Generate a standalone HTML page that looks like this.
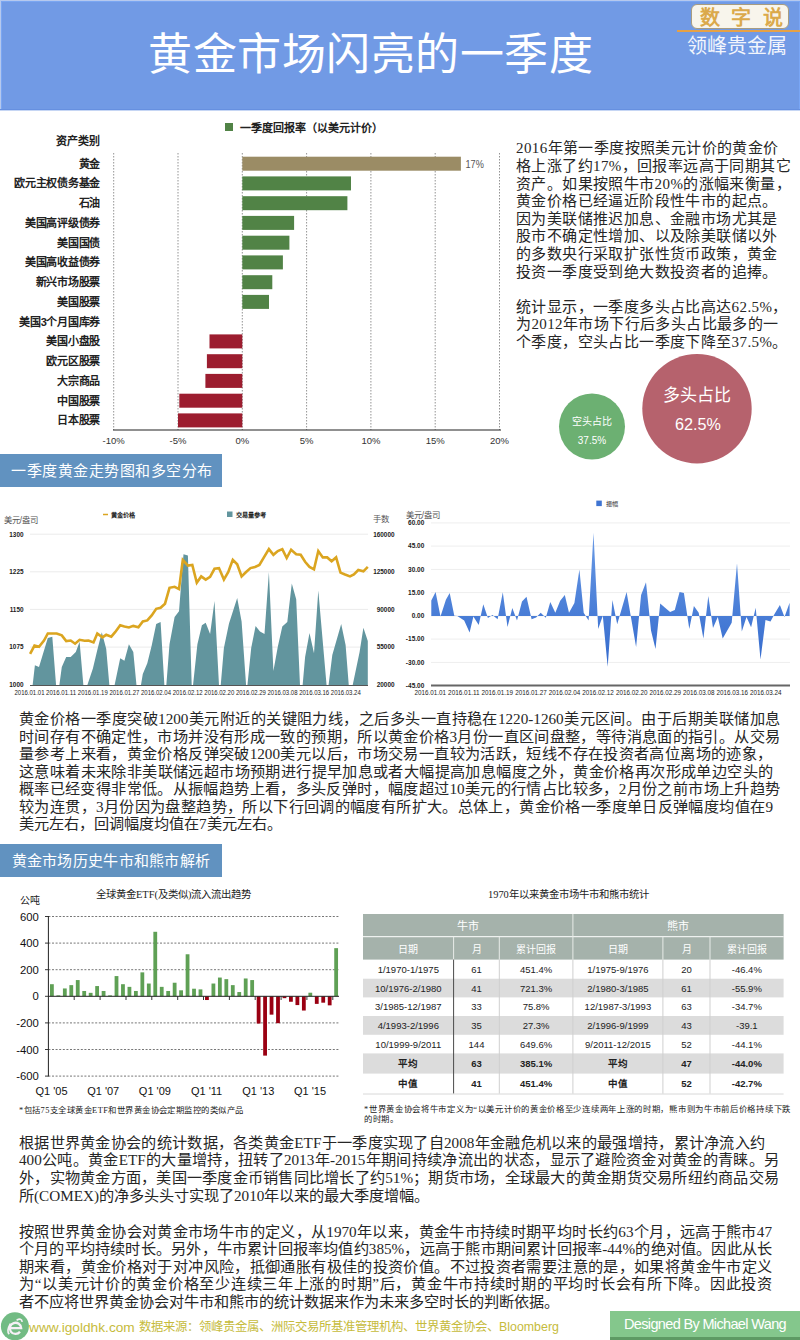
<!DOCTYPE html>
<html lang="zh-CN"><head><meta charset="utf-8"><title>黄金市场闪亮的一季度</title>
<style>
html,body{margin:0;padding:0;}
body{width:800px;height:1340px;position:relative;overflow:hidden;background:#fff;font-family:"Liberation Sans",sans-serif;color:#222;}
.a{position:absolute;white-space:nowrap;}
.sr{font-family:"Liberation Serif",serif;}
.ln{position:absolute;white-space:nowrap;font-family:"Liberation Serif",serif;color:#262626;}
.j{text-align:justify;text-align-last:justify;}
svg text{font-family:"Liberation Sans",sans-serif;}
</style></head><body>
<svg class="a" style="left:0;top:0" width="800" height="1340" viewBox="0 0 800 1340">
<line x1="113.7" y1="153" x2="113.7" y2="430" stroke="#777" stroke-width="0.8" stroke-dasharray="1.5,1.5"/>
<line x1="178.0" y1="153" x2="178.0" y2="430" stroke="#777" stroke-width="0.8" stroke-dasharray="1.5,1.5"/>
<line x1="242.3" y1="153" x2="242.3" y2="430" stroke="#777" stroke-width="0.8" stroke-dasharray="1.5,1.5"/>
<line x1="306.6" y1="153" x2="306.6" y2="430" stroke="#777" stroke-width="0.8" stroke-dasharray="1.5,1.5"/>
<line x1="370.9" y1="153" x2="370.9" y2="430" stroke="#777" stroke-width="0.8" stroke-dasharray="1.5,1.5"/>
<line x1="435.2" y1="153" x2="435.2" y2="430" stroke="#777" stroke-width="0.8" stroke-dasharray="1.5,1.5"/>
<line x1="499.5" y1="153" x2="499.5" y2="430" stroke="#777" stroke-width="0.8" stroke-dasharray="1.5,1.5"/>
<line x1="113" y1="430" x2="501" y2="430" stroke="#222" stroke-width="1.2"/>
<rect x="242.3" y="156.7" width="218.6" height="14" fill="#9b8c65"/>
<text x="100" y="167.7" text-anchor="end" font-size="11" font-weight="bold" fill="#222" letter-spacing="-0.3">黄金</text>
<rect x="242.3" y="176.4" width="108.7" height="14" fill="#518346"/>
<text x="100" y="187.4" text-anchor="end" font-size="11" font-weight="bold" fill="#222" letter-spacing="-0.3">欧元主权债务基金</text>
<rect x="242.3" y="196.2" width="105.1" height="14" fill="#518346"/>
<text x="100" y="207.2" text-anchor="end" font-size="11" font-weight="bold" fill="#222" letter-spacing="-0.3">石油</text>
<rect x="242.3" y="215.9" width="51.8" height="14" fill="#518346"/>
<text x="100" y="226.9" text-anchor="end" font-size="11" font-weight="bold" fill="#222" letter-spacing="-0.3">美国高评级债券</text>
<rect x="242.3" y="235.7" width="47.1" height="14" fill="#518346"/>
<text x="100" y="246.7" text-anchor="end" font-size="11" font-weight="bold" fill="#222" letter-spacing="-0.3">美国国债</text>
<rect x="242.3" y="255.4" width="40.6" height="14" fill="#518346"/>
<text x="100" y="266.4" text-anchor="end" font-size="11" font-weight="bold" fill="#222" letter-spacing="-0.3">美国高收益债券</text>
<rect x="242.3" y="275.2" width="30.0" height="14" fill="#518346"/>
<text x="100" y="286.2" text-anchor="end" font-size="11" font-weight="bold" fill="#222" letter-spacing="-0.3">新兴市场股票</text>
<rect x="242.3" y="294.9" width="26.7" height="14" fill="#518346"/>
<text x="100" y="305.9" text-anchor="end" font-size="11" font-weight="bold" fill="#222" letter-spacing="-0.3">美国股票</text>
<text x="100" y="325.7" text-anchor="end" font-size="11" font-weight="bold" fill="#222" letter-spacing="-0.3">美国3个月国库券</text>
<rect x="209.5" y="334.4" width="32.8" height="14" fill="#9c1d2f"/>
<text x="100" y="345.4" text-anchor="end" font-size="11" font-weight="bold" fill="#222" letter-spacing="-0.3">美国小盘股</text>
<rect x="206.9" y="354.2" width="35.4" height="14" fill="#9c1d2f"/>
<text x="100" y="365.2" text-anchor="end" font-size="11" font-weight="bold" fill="#222" letter-spacing="-0.3">欧元区股票</text>
<rect x="205.4" y="373.9" width="36.9" height="14" fill="#9c1d2f"/>
<text x="100" y="384.9" text-anchor="end" font-size="11" font-weight="bold" fill="#222" letter-spacing="-0.3">大宗商品</text>
<rect x="179.3" y="393.7" width="63.0" height="14" fill="#9c1d2f"/>
<text x="100" y="404.7" text-anchor="end" font-size="11" font-weight="bold" fill="#222" letter-spacing="-0.3">中国股票</text>
<rect x="178.0" y="413.4" width="64.3" height="14" fill="#9c1d2f"/>
<text x="100" y="424.4" text-anchor="end" font-size="11" font-weight="bold" fill="#222" letter-spacing="-0.3">日本股票</text>
<text x="100" y="145" text-anchor="end" font-size="11" font-weight="bold" fill="#222">资产类别</text>
<rect x="225" y="123" width="8" height="8" fill="#518346"/>
<text x="240" y="131.5" font-size="11" font-weight="bold" fill="#222">一季度回报率（以美元计价）</text>
<text x="465.5" y="168" font-size="11" fill="#555" textLength="18.4" lengthAdjust="spacingAndGlyphs">17%</text>
<text x="113.7" y="444" text-anchor="middle" font-size="9.5" fill="#333">-10%</text>
<text x="178.0" y="444" text-anchor="middle" font-size="9.5" fill="#333">-5%</text>
<text x="242.3" y="444" text-anchor="middle" font-size="9.5" fill="#333">0%</text>
<text x="306.6" y="444" text-anchor="middle" font-size="9.5" fill="#333">5%</text>
<text x="370.9" y="444" text-anchor="middle" font-size="9.5" fill="#333">10%</text>
<text x="435.2" y="444" text-anchor="middle" font-size="9.5" fill="#333">15%</text>
<text x="499.5" y="444" text-anchor="middle" font-size="9.5" fill="#333">20%</text>
<circle cx="592" cy="426.6" r="33" fill="#6cb072"/>
<circle cx="697" cy="408.7" r="54.7" fill="#b6626d"/>
<text x="592" y="425" text-anchor="middle" font-size="10" fill="#fff">空头占比</text>
<text x="592" y="444" text-anchor="middle" font-size="10" fill="#fff">37.5%</text>
<text x="697" y="401" text-anchor="middle" font-size="17" fill="#fff">多头占比</text>
<text x="698" y="430" text-anchor="middle" font-size="16.2" fill="#fff">62.5%</text>
<line x1="30" y1="534.2" x2="368" y2="534.2" stroke="#ebebeb" stroke-width="1"/>
<line x1="30" y1="571.8" x2="368" y2="571.8" stroke="#ebebeb" stroke-width="1"/>
<line x1="30" y1="609.4" x2="368" y2="609.4" stroke="#ebebeb" stroke-width="1"/>
<line x1="30" y1="647.1" x2="368" y2="647.1" stroke="#ebebeb" stroke-width="1"/>
<polygon points="32.6,685.5 34.9,665.2 39,667.1 47.8,638 52.3,636.7 56.1,685.5 59.3,685.5 61.8,667.1 66.2,657 70.7,657 75.8,651.9 79.6,641.8 83.4,685.5 87.2,685.5 92.9,668.4 97.3,650 101.8,632.2 106.2,648.7 109.4,685.5 114.5,685.5 120.2,658.2 124.4,660.8 128.9,644.3 133.3,651.9 136.5,685.5 140.9,685.5 142.8,674.1 147.3,663.3 151.7,645.6 156.2,624 160.6,622.1 164.4,685.5 166.3,685.5 169.5,644.3 174.6,617 179,611.3 183.5,554.2 187.9,555.5 191.7,685.5 193,685.5 197.4,644.3 201.9,625.3 205.7,622.7 210.1,634.1 214.5,601.1 219,685.5 220.7,685.5 223.9,648.1 229,623.4 237.2,598 241.6,621.4 246.1,685.5 247.4,685.5 251.2,648.1 255.6,625.9 260,631.6 264.5,634.1 268.9,572 273.4,670.9 277.8,646.8 282.3,626.5 287.3,622.1 291.8,583.4 296.2,599.2 300,685.5 302.6,685.5 305.1,657 309.5,632.9 314,653.2 318.3,590.4 326.6,685.5 328.5,685.5 332.3,655.1 341.2,624 345.6,644.9 348.8,685.5 352.6,685.5 359.6,651.9 363.4,627.8 367.8,641.1 367.8,685.5" fill="#62959e"/>
<line x1="30" y1="685.5" x2="368" y2="685.5" stroke="#555" stroke-width="1"/>
<polyline points="30.1,653.8 34.5,645.6 39,646.8 44,640.5 47.8,633.5 52.3,633.5 56.7,633.5 61.8,635.4 66.2,641.1 70.7,640.5 75.1,643.7 79.6,639.8 84.6,640.7 88.5,640.5 93.5,642.4 97.3,633.5 102.4,637.3 106.2,634.8 111.3,636.7 115.1,632.2 120.2,625.3 124.4,626.5 128.9,627.5 133.3,625.9 138.4,627.2 142.8,621.4 147.3,620.4 151.7,615.4 156.2,608.8 160.6,607.7 165,603.7 169.5,587.8 174.6,586.8 179,589.1 182.8,559.9 187.9,565.6 192.3,565 196.8,582.7 201.2,576.4 205.7,579.6 210.1,576.8 214.5,568.8 219,568.1 223.9,579.6 228.3,572 232.8,559.9 237.2,564.3 241.6,576.4 246.1,572 250.5,568.1 255,566.9 259.4,565 263.9,557.4 268.9,549.1 273.4,554.8 277.8,551 282.3,549.1 286.7,558 291.1,549.7 296.2,554.2 300.7,554.8 305.1,561.8 309.5,566.9 314,569.4 318.3,551 322.8,557.4 327.2,557.4 331.6,561.2 336.1,557.4 340.5,572.6 345,574.5 350,576.4 353.9,574.5 358.3,570 363.4,571.3 367.8,566.9" fill="none" stroke="#dba520" stroke-width="2.6" stroke-linejoin="miter"/>
<text x="23.5" y="536.5" text-anchor="end" font-size="6.4" font-weight="bold" fill="#222">1300</text>
<text x="23.5" y="574.1" text-anchor="end" font-size="6.4" font-weight="bold" fill="#222">1225</text>
<text x="23.5" y="611.7" text-anchor="end" font-size="6.4" font-weight="bold" fill="#222">1150</text>
<text x="23.5" y="649.4" text-anchor="end" font-size="6.4" font-weight="bold" fill="#222">1075</text>
<text x="23.5" y="687.0" text-anchor="end" font-size="6.4" font-weight="bold" fill="#222">1000</text>
<text x="394.5" y="536.5" text-anchor="end" font-size="6.4" font-weight="bold" fill="#222">160000</text>
<text x="394.5" y="574.1" text-anchor="end" font-size="6.4" font-weight="bold" fill="#222">125000</text>
<text x="394.5" y="611.7" text-anchor="end" font-size="6.4" font-weight="bold" fill="#222">90000</text>
<text x="394.5" y="649.4" text-anchor="end" font-size="6.4" font-weight="bold" fill="#222">55000</text>
<text x="394.5" y="687.0" text-anchor="end" font-size="6.4" font-weight="bold" fill="#222">20000</text>
<text x="14.5" y="694.8" font-size="7" fill="#222" textLength="30" lengthAdjust="spacingAndGlyphs">2016.01.01</text>
<text x="46.1" y="694.8" font-size="7" fill="#222" textLength="30" lengthAdjust="spacingAndGlyphs">2016.01.11</text>
<text x="77.8" y="694.8" font-size="7" fill="#222" textLength="30" lengthAdjust="spacingAndGlyphs">2016.01.19</text>
<text x="109.4" y="694.8" font-size="7" fill="#222" textLength="30" lengthAdjust="spacingAndGlyphs">2016.01.27</text>
<text x="141.0" y="694.8" font-size="7" fill="#222" textLength="30" lengthAdjust="spacingAndGlyphs">2016.02.04</text>
<text x="172.7" y="694.8" font-size="7" fill="#222" textLength="30" lengthAdjust="spacingAndGlyphs">2016.02.12</text>
<text x="204.3" y="694.8" font-size="7" fill="#222" textLength="30" lengthAdjust="spacingAndGlyphs">2016.02.20</text>
<text x="235.9" y="694.8" font-size="7" fill="#222" textLength="30" lengthAdjust="spacingAndGlyphs">2016.02.29</text>
<text x="267.5" y="694.8" font-size="7" fill="#222" textLength="30" lengthAdjust="spacingAndGlyphs">2016.03.08</text>
<text x="299.2" y="694.8" font-size="7" fill="#222" textLength="30" lengthAdjust="spacingAndGlyphs">2016.03.16</text>
<text x="330.8" y="694.8" font-size="7" fill="#222" textLength="30" lengthAdjust="spacingAndGlyphs">2016.03.24</text>
<text x="3.8" y="522.5" font-size="8.4" fill="#555">美元/盎司</text>
<text x="372.5" y="521.5" font-size="8.4" fill="#555">手数</text>
<line x1="103" y1="514.5" x2="108" y2="514.5" stroke="#dba520" stroke-width="1.5"/>
<text x="111" y="517" font-size="6.2" font-weight="bold" fill="#222">黄金价格</text>
<rect x="227" y="511.5" width="5.5" height="5.5" fill="#62959e"/>
<text x="236" y="517" font-size="6.2" font-weight="bold" fill="#222">交易量参考</text>
<line x1="431" y1="522.9" x2="790" y2="522.9" stroke="#eeeeee" stroke-width="1"/>
<line x1="431" y1="546.1" x2="790" y2="546.1" stroke="#eeeeee" stroke-width="1"/>
<line x1="431" y1="569.4" x2="790" y2="569.4" stroke="#eeeeee" stroke-width="1"/>
<line x1="431" y1="592.6" x2="790" y2="592.6" stroke="#eeeeee" stroke-width="1"/>
<line x1="431" y1="615.9" x2="790" y2="615.9" stroke="#eeeeee" stroke-width="1"/>
<line x1="431" y1="639.1" x2="790" y2="639.1" stroke="#eeeeee" stroke-width="1"/>
<line x1="431" y1="662.4" x2="790" y2="662.4" stroke="#eeeeee" stroke-width="1"/>
<defs><linearGradient id="bg" gradientUnits="userSpaceOnUse" x1="0" y1="530" x2="0" y2="670"><stop offset="0" stop-color="#6a9be6"/><stop offset="1" stop-color="#3369cc"/></linearGradient></defs>
<polygon points="431.3,615.9 431.3,600.5 435.6,592.1 440.5,616.6 445.9,599.7 449.7,592.9 454.3,615.8 457.3,616.1 464.2,620.4 469.6,632.6 473.4,616.6 478.7,625 483.3,604.3 487.9,618.1 492.5,615 497.6,619.2 502.8,592.3 507.5,627 512.3,607.9 517,620.6 522,601.5 526.5,596.8 531.6,619.2 536.1,617.5 540.7,612.8 545.8,617.8 550.3,601.9 555.3,612.8 560.2,600.8 564.8,595.1 569,612.8 574.4,602.9 579.4,569.6 583.7,612.8 588.6,620.4 593.5,532.7 598.2,629.1 602.8,615.7 607.7,666.7 612.4,600.1 617.2,624.2 626.6,592 636.1,646.9 641.1,595.1 646,582.3 651,630.6 655.5,649 660.2,603.6 664.5,607.2 670.1,612.1 674.8,610 679.6,592 683.9,593 689.3,629.1 693.9,606 698.7,612.8 703.4,638.6 708.3,596 713,627.9 717.8,617.1 722.7,638.6 731.7,622.8 737,563.2 741.8,631.5 746.5,617.1 751.1,627.2 755.7,607.7 760.5,659.5 765.5,620 770.5,621.4 774.8,613.5 779.9,604.9 784.5,617.1 789.6,602.7 789.6,615.9" fill="url(#bg)"/>
<line x1="431" y1="685.6" x2="790" y2="685.6" stroke="#666" stroke-width="2"/>
<text x="424.3" y="525.2" text-anchor="end" font-size="6.5" font-weight="bold" fill="#222">60.00</text>
<text x="424.3" y="548.4" text-anchor="end" font-size="6.5" font-weight="bold" fill="#222">45.00</text>
<text x="424.3" y="571.7" text-anchor="end" font-size="6.5" font-weight="bold" fill="#222">30.00</text>
<text x="424.3" y="594.9" text-anchor="end" font-size="6.5" font-weight="bold" fill="#222">15.00</text>
<text x="424.3" y="618.2" text-anchor="end" font-size="6.5" font-weight="bold" fill="#222">0.00</text>
<text x="424.3" y="641.4" text-anchor="end" font-size="6.5" font-weight="bold" fill="#222">-15.00</text>
<text x="424.3" y="664.7" text-anchor="end" font-size="6.5" font-weight="bold" fill="#222">-30.00</text>
<text x="424.3" y="687.9" text-anchor="end" font-size="6.5" font-weight="bold" fill="#222">-45.00</text>
<text x="414.5" y="694.8" font-size="7" fill="#222" textLength="31.5" lengthAdjust="spacingAndGlyphs">2016.01.01</text>
<text x="448.1" y="694.8" font-size="7" fill="#222" textLength="31.5" lengthAdjust="spacingAndGlyphs">2016.01.11</text>
<text x="481.6" y="694.8" font-size="7" fill="#222" textLength="31.5" lengthAdjust="spacingAndGlyphs">2016.01.19</text>
<text x="515.2" y="694.8" font-size="7" fill="#222" textLength="31.5" lengthAdjust="spacingAndGlyphs">2016.01.27</text>
<text x="548.7" y="694.8" font-size="7" fill="#222" textLength="31.5" lengthAdjust="spacingAndGlyphs">2016.02.04</text>
<text x="582.3" y="694.8" font-size="7" fill="#222" textLength="31.5" lengthAdjust="spacingAndGlyphs">2016.02.12</text>
<text x="615.9" y="694.8" font-size="7" fill="#222" textLength="31.5" lengthAdjust="spacingAndGlyphs">2016.02.20</text>
<text x="649.4" y="694.8" font-size="7" fill="#222" textLength="31.5" lengthAdjust="spacingAndGlyphs">2016.02.29</text>
<text x="683.0" y="694.8" font-size="7" fill="#222" textLength="31.5" lengthAdjust="spacingAndGlyphs">2016.03.08</text>
<text x="716.5" y="694.8" font-size="7" fill="#222" textLength="31.5" lengthAdjust="spacingAndGlyphs">2016.03.16</text>
<text x="750.1" y="694.8" font-size="7" fill="#222" textLength="31.5" lengthAdjust="spacingAndGlyphs">2016.03.24</text>
<text x="405.8" y="517.5" font-size="8.4" fill="#555">美元/盎司</text>
<rect x="596.3" y="500.6" width="5.5" height="5.5" fill="#3f74d2"/>
<text x="606" y="506" font-size="6.2" fill="#333">振幅</text>
<line x1="48.4" y1="916.5" x2="339" y2="916.5" stroke="#666" stroke-width="0.9" stroke-dasharray="2,1.6"/>
<line x1="48.4" y1="943.1" x2="339" y2="943.1" stroke="#666" stroke-width="0.9" stroke-dasharray="2,1.6"/>
<line x1="48.4" y1="969.7" x2="339" y2="969.7" stroke="#666" stroke-width="0.9" stroke-dasharray="2,1.6"/>
<line x1="48.4" y1="1022.9" x2="339" y2="1022.9" stroke="#666" stroke-width="0.9" stroke-dasharray="2,1.6"/>
<line x1="48.4" y1="1049.5" x2="339" y2="1049.5" stroke="#666" stroke-width="0.9" stroke-dasharray="2,1.6"/>
<line x1="48.4" y1="1076.1" x2="339" y2="1076.1" stroke="#666" stroke-width="0.9" stroke-dasharray="2,1.6"/>
<rect x="50.00" y="984.20" width="3.8" height="12.10" fill="#5fa055"/>
<rect x="56.46" y="995.37" width="3.8" height="0.93" fill="#5fa055"/>
<rect x="62.92" y="988.45" width="3.8" height="7.85" fill="#5fa055"/>
<rect x="69.38" y="985.13" width="3.8" height="11.17" fill="#5fa055"/>
<rect x="75.84" y="980.07" width="3.8" height="16.23" fill="#5fa055"/>
<rect x="82.30" y="990.98" width="3.8" height="5.32" fill="#5fa055"/>
<rect x="88.76" y="992.84" width="3.8" height="3.46" fill="#5fa055"/>
<rect x="95.22" y="986.06" width="3.8" height="10.24" fill="#5fa055"/>
<rect x="101.68" y="990.98" width="3.8" height="5.32" fill="#5fa055"/>
<rect x="108.14" y="995.37" width="3.8" height="0.93" fill="#5fa055"/>
<rect x="114.60" y="976.08" width="3.8" height="20.22" fill="#5fa055"/>
<rect x="121.06" y="984.20" width="3.8" height="12.10" fill="#5fa055"/>
<rect x="127.52" y="986.86" width="3.8" height="9.44" fill="#5fa055"/>
<rect x="133.98" y="990.98" width="3.8" height="5.32" fill="#5fa055"/>
<rect x="140.44" y="972.36" width="3.8" height="23.94" fill="#5fa055"/>
<rect x="146.90" y="983.53" width="3.8" height="12.77" fill="#5fa055"/>
<rect x="153.36" y="931.79" width="3.8" height="64.51" fill="#5fa055"/>
<rect x="159.82" y="986.86" width="3.8" height="9.44" fill="#5fa055"/>
<rect x="166.28" y="990.98" width="3.8" height="5.32" fill="#5fa055"/>
<rect x="172.74" y="982.73" width="3.8" height="13.57" fill="#5fa055"/>
<rect x="179.20" y="990.31" width="3.8" height="5.99" fill="#5fa055"/>
<rect x="185.66" y="954.27" width="3.8" height="42.03" fill="#5fa055"/>
<rect x="192.12" y="988.72" width="3.8" height="7.58" fill="#5fa055"/>
<rect x="198.58" y="989.38" width="3.8" height="6.92" fill="#5fa055"/>
<rect x="205.04" y="996.30" width="3.8" height="3.72" fill="#9a0012"/>
<rect x="211.50" y="983.53" width="3.8" height="12.77" fill="#5fa055"/>
<rect x="217.96" y="977.55" width="3.8" height="18.75" fill="#5fa055"/>
<rect x="224.42" y="979.14" width="3.8" height="17.16" fill="#5fa055"/>
<rect x="230.88" y="985.13" width="3.8" height="11.17" fill="#5fa055"/>
<rect x="237.34" y="992.04" width="3.8" height="4.26" fill="#5fa055"/>
<rect x="243.80" y="978.48" width="3.8" height="17.82" fill="#5fa055"/>
<rect x="250.26" y="980.07" width="3.8" height="16.23" fill="#5fa055"/>
<rect x="256.72" y="996.30" width="3.8" height="27.27" fill="#9a0012"/>
<rect x="263.18" y="996.30" width="3.8" height="59.32" fill="#9a0012"/>
<rect x="269.64" y="996.30" width="3.8" height="18.35" fill="#9a0012"/>
<rect x="276.10" y="996.30" width="3.8" height="26.87" fill="#9a0012"/>
<rect x="282.56" y="996.30" width="3.8" height="1.86" fill="#9a0012"/>
<rect x="289.02" y="996.30" width="3.8" height="5.45" fill="#9a0012"/>
<rect x="295.48" y="996.30" width="3.8" height="8.78" fill="#9a0012"/>
<rect x="301.94" y="996.30" width="3.8" height="14.23" fill="#9a0012"/>
<rect x="308.40" y="992.71" width="3.8" height="3.59" fill="#5fa055"/>
<rect x="314.86" y="996.30" width="3.8" height="7.58" fill="#9a0012"/>
<rect x="321.32" y="996.30" width="3.8" height="6.38" fill="#9a0012"/>
<rect x="327.78" y="996.30" width="3.8" height="9.04" fill="#9a0012"/>
<rect x="334.24" y="948.15" width="3.8" height="48.15" fill="#5fa055"/>
<line x1="48.4" y1="916" x2="48.4" y2="1076.5" stroke="#222" stroke-width="1"/>
<line x1="48.4" y1="996.3" x2="339" y2="996.3" stroke="#222" stroke-width="1"/>
<line x1="45" y1="916.5" x2="48.4" y2="916.5" stroke="#222" stroke-width="0.9"/>
<line x1="45" y1="943.1" x2="48.4" y2="943.1" stroke="#222" stroke-width="0.9"/>
<line x1="45" y1="969.7" x2="48.4" y2="969.7" stroke="#222" stroke-width="0.9"/>
<line x1="45" y1="996.3" x2="48.4" y2="996.3" stroke="#222" stroke-width="0.9"/>
<line x1="45" y1="1022.9" x2="48.4" y2="1022.9" stroke="#222" stroke-width="0.9"/>
<line x1="45" y1="1049.5" x2="48.4" y2="1049.5" stroke="#222" stroke-width="0.9"/>
<line x1="45" y1="1076.1" x2="48.4" y2="1076.1" stroke="#222" stroke-width="0.9"/>
<line x1="74.2" y1="996.3" x2="74.2" y2="1000" stroke="#222" stroke-width="0.9"/>
<line x1="100.1" y1="996.3" x2="100.1" y2="1000" stroke="#222" stroke-width="0.9"/>
<line x1="126.0" y1="996.3" x2="126.0" y2="1000" stroke="#222" stroke-width="0.9"/>
<line x1="151.8" y1="996.3" x2="151.8" y2="1000" stroke="#222" stroke-width="0.9"/>
<line x1="177.7" y1="996.3" x2="177.7" y2="1000" stroke="#222" stroke-width="0.9"/>
<line x1="203.5" y1="996.3" x2="203.5" y2="1000" stroke="#222" stroke-width="0.9"/>
<line x1="229.4" y1="996.3" x2="229.4" y2="1000" stroke="#222" stroke-width="0.9"/>
<line x1="255.2" y1="996.3" x2="255.2" y2="1000" stroke="#222" stroke-width="0.9"/>
<line x1="281.1" y1="996.3" x2="281.1" y2="1000" stroke="#222" stroke-width="0.9"/>
<line x1="306.9" y1="996.3" x2="306.9" y2="1000" stroke="#222" stroke-width="0.9"/>
<line x1="332.8" y1="996.3" x2="332.8" y2="1000" stroke="#222" stroke-width="0.9"/>
<text x="38.8" y="920.5" text-anchor="end" font-size="11.3" fill="#111">600</text>
<text x="38.8" y="947.1" text-anchor="end" font-size="11.3" fill="#111">400</text>
<text x="38.8" y="973.7" text-anchor="end" font-size="11.3" fill="#111">200</text>
<text x="38.8" y="1000.3" text-anchor="end" font-size="11.3" fill="#111">0</text>
<text x="38.8" y="1026.9" text-anchor="end" font-size="11.3" fill="#111">-200</text>
<text x="38.8" y="1053.5" text-anchor="end" font-size="11.3" fill="#111">-400</text>
<text x="38.8" y="1080.1" text-anchor="end" font-size="11.3" fill="#111">-600</text>
<text x="51.5" y="1094.5" text-anchor="middle" font-size="11" fill="#111">Q1 '05</text>
<text x="103.2" y="1094.5" text-anchor="middle" font-size="11" fill="#111">Q1 '07</text>
<text x="154.9" y="1094.5" text-anchor="middle" font-size="11" fill="#111">Q1 '09</text>
<text x="206.6" y="1094.5" text-anchor="middle" font-size="11" fill="#111">Q1 '11</text>
<text x="258.3" y="1094.5" text-anchor="middle" font-size="11" fill="#111">Q1 '13</text>
<text x="310.0" y="1094.5" text-anchor="middle" font-size="11" fill="#111">Q1 '15</text>
<rect x="363" y="914" width="420.6" height="45.6" fill="#a5b2ab"/>
<line x1="363" y1="936.7" x2="783.6" y2="936.7" stroke="#fff" stroke-width="1"/>
<line x1="453.6" y1="936.7" x2="453.6" y2="959.6" stroke="#e8ece9" stroke-width="1"/>
<line x1="499.3" y1="936.7" x2="499.3" y2="959.6" stroke="#e8ece9" stroke-width="1"/>
<line x1="572.9" y1="914" x2="572.9" y2="959.6" stroke="#e8ece9" stroke-width="1"/>
<line x1="662.9" y1="936.7" x2="662.9" y2="959.6" stroke="#e8ece9" stroke-width="1"/>
<line x1="710" y1="936.7" x2="710" y2="959.6" stroke="#e8ece9" stroke-width="1"/>
<rect x="363" y="978.7" width="420.6" height="18.7" fill="#dcdcdc"/>
<rect x="363" y="1016" width="420.6" height="18.8" fill="#dcdcdc"/>
<rect x="363" y="1053.4" width="420.6" height="20.2" fill="#dcdcdc"/>
<line x1="453.6" y1="959.6" x2="453.6" y2="1093.7" stroke="#4a4a4a" stroke-width="1"/>
<line x1="499.3" y1="959.6" x2="499.3" y2="1093.7" stroke="#cfcfcf" stroke-width="1"/>
<line x1="572.9" y1="959.6" x2="572.9" y2="1093.7" stroke="#cfcfcf" stroke-width="1"/>
<line x1="662.9" y1="959.6" x2="662.9" y2="1093.7" stroke="#cfcfcf" stroke-width="1"/>
<line x1="710" y1="959.6" x2="710" y2="1093.7" stroke="#cfcfcf" stroke-width="1"/>
<line x1="363" y1="1094" x2="783.6" y2="1094" stroke="#d8d8d8" stroke-width="1"/>
<text x="468" y="930" text-anchor="middle" font-size="11" fill="#fff">牛市</text>
<text x="678" y="930" text-anchor="middle" font-size="11" fill="#fff">熊市</text>
<text x="408.3" y="952.5" text-anchor="middle" font-size="10" fill="#fff">日期</text>
<text x="476.5" y="952.5" text-anchor="middle" font-size="10" fill="#fff">月</text>
<text x="536.1" y="952.5" text-anchor="middle" font-size="10" fill="#fff">累计回报</text>
<text x="617.9" y="952.5" text-anchor="middle" font-size="10" fill="#fff">日期</text>
<text x="686.5" y="952.5" text-anchor="middle" font-size="10" fill="#fff">月</text>
<text x="746.8" y="952.5" text-anchor="middle" font-size="10" fill="#fff">累计回报</text>
<text x="408.3" y="972.7" text-anchor="middle" font-size="9.5" fill="#222">1/1970-1/1975</text>
<text x="476.5" y="972.7" text-anchor="middle" font-size="9.5" fill="#222">61</text>
<text x="536.1" y="972.7" text-anchor="middle" font-size="9.5" fill="#222">451.4%</text>
<text x="617.9" y="972.7" text-anchor="middle" font-size="9.5" fill="#222">1/1975-9/1976</text>
<text x="686.5" y="972.7" text-anchor="middle" font-size="9.5" fill="#222">20</text>
<text x="746.8" y="972.7" text-anchor="middle" font-size="9.5" fill="#222">-46.4%</text>
<text x="408.3" y="991.5" text-anchor="middle" font-size="9.5" fill="#222">10/1976-2/1980</text>
<text x="476.5" y="991.5" text-anchor="middle" font-size="9.5" fill="#222">41</text>
<text x="536.1" y="991.5" text-anchor="middle" font-size="9.5" fill="#222">721.3%</text>
<text x="617.9" y="991.5" text-anchor="middle" font-size="9.5" fill="#222">2/1980-3/1985</text>
<text x="686.5" y="991.5" text-anchor="middle" font-size="9.5" fill="#222">61</text>
<text x="746.8" y="991.5" text-anchor="middle" font-size="9.5" fill="#222">-55.9%</text>
<text x="408.3" y="1010.2" text-anchor="middle" font-size="9.5" fill="#222">3/1985-12/1987</text>
<text x="476.5" y="1010.2" text-anchor="middle" font-size="9.5" fill="#222">33</text>
<text x="536.1" y="1010.2" text-anchor="middle" font-size="9.5" fill="#222">75.8%</text>
<text x="617.9" y="1010.2" text-anchor="middle" font-size="9.5" fill="#222">12/1987-3/1993</text>
<text x="686.5" y="1010.2" text-anchor="middle" font-size="9.5" fill="#222">63</text>
<text x="746.8" y="1010.2" text-anchor="middle" font-size="9.5" fill="#222">-34.7%</text>
<text x="408.3" y="1028.9" text-anchor="middle" font-size="9.5" fill="#222">4/1993-2/1996</text>
<text x="476.5" y="1028.9" text-anchor="middle" font-size="9.5" fill="#222">35</text>
<text x="536.1" y="1028.9" text-anchor="middle" font-size="9.5" fill="#222">27.3%</text>
<text x="617.9" y="1028.9" text-anchor="middle" font-size="9.5" fill="#222">2/1996-9/1999</text>
<text x="686.5" y="1028.9" text-anchor="middle" font-size="9.5" fill="#222">43</text>
<text x="746.8" y="1028.9" text-anchor="middle" font-size="9.5" fill="#222">-39.1</text>
<text x="408.3" y="1047.6" text-anchor="middle" font-size="9.5" fill="#222">10/1999-9/2011</text>
<text x="476.5" y="1047.6" text-anchor="middle" font-size="9.5" fill="#222">144</text>
<text x="536.1" y="1047.6" text-anchor="middle" font-size="9.5" fill="#222">649.6%</text>
<text x="617.9" y="1047.6" text-anchor="middle" font-size="9.5" fill="#222">9/2011-12/2015</text>
<text x="686.5" y="1047.6" text-anchor="middle" font-size="9.5" fill="#222">52</text>
<text x="746.8" y="1047.6" text-anchor="middle" font-size="9.5" fill="#222">-44.1%</text>
<text x="408.3" y="1067.0" text-anchor="middle" font-size="9.5" font-weight="bold" fill="#222">平均</text>
<text x="476.5" y="1067.0" text-anchor="middle" font-size="9.5" font-weight="bold" fill="#222">63</text>
<text x="536.1" y="1067.0" text-anchor="middle" font-size="9.5" font-weight="bold" fill="#222">385.1%</text>
<text x="617.9" y="1067.0" text-anchor="middle" font-size="9.5" font-weight="bold" fill="#222">平均</text>
<text x="686.5" y="1067.0" text-anchor="middle" font-size="9.5" font-weight="bold" fill="#222">47</text>
<text x="746.8" y="1067.0" text-anchor="middle" font-size="9.5" font-weight="bold" fill="#222">-44.0%</text>
<text x="408.3" y="1087.2" text-anchor="middle" font-size="9.5" font-weight="bold" fill="#222">中值</text>
<text x="476.5" y="1087.2" text-anchor="middle" font-size="9.5" font-weight="bold" fill="#222">41</text>
<text x="536.1" y="1087.2" text-anchor="middle" font-size="9.5" font-weight="bold" fill="#222">451.4%</text>
<text x="617.9" y="1087.2" text-anchor="middle" font-size="9.5" font-weight="bold" fill="#222">中值</text>
<text x="686.5" y="1087.2" text-anchor="middle" font-size="9.5" font-weight="bold" fill="#222">52</text>
<text x="746.8" y="1087.2" text-anchor="middle" font-size="9.5" font-weight="bold" fill="#222">-42.7%</text>
<circle cx="14.9" cy="1326.3" r="14" fill="#72bb84"/>
<path d="M10,1328.2 L21.2,1328.2 A5.7,5.6 0 1 0 20,1331.8" fill="none" stroke="#f6f0f6" stroke-width="2.3"/>
<path d="M9.2,1334.2 Q6.2,1331 10.4,1323.6 M16.6,1320.2 Q21.4,1317.6 22.2,1321.8" fill="none" stroke="#f6f0f6" stroke-width="1.7"/>
</svg>
<div class="a" style="left:0;top:0;width:800px;height:110px;background:#719ae5;"></div>
<div class="a" style="left:0;top:1px;width:800px;height:1px;background:#7aa6f2;"></div>
<div class="a" style="left:1px;top:0;width:1px;height:110px;background:#7aa6f2;"></div>
<div class="a" style="left:799px;top:0;width:1px;height:110px;background:#79a6f5;"></div>
<div class="a" style="left:0;top:0;width:800px;height:1px;background:#b6c9ee;"></div>
<div class="a" style="left:0;top:0;width:1px;height:110px;background:#b6c9ee;"></div>
<div class="a" style="left:0;top:109px;width:800px;height:1px;background:#6690e0;"></div>
<div class="a" style="left:0;top:110px;width:800px;height:1px;background:#c6d6f4;"></div>
<div class="a sr" style="left:148px;top:28px;font-size:44px;line-height:56px;letter-spacing:0.5px;color:#fff;">黄金市场闪亮的一季度</div>
<div class="a" style="left:691px;top:4px;width:96px;height:23px;background:#f8f5ec;border:1px solid #a89c80;border-radius:6px;"></div>
<div class="a" style="left:699.5px;top:4.5px;font-size:20px;line-height:26px;color:#dba94b;letter-spacing:11.5px;font-weight:bold;">数字说</div>
<div class="a" style="left:677px;top:30px;width:123px;height:2px;background:#e6a146;"></div>
<div class="a" style="left:687px;top:32.5px;font-size:20px;line-height:26px;color:#f2f5fc;letter-spacing:-0.1px;">领峰贵金属</div>
<div class="ln" style="left:516px;top:140.3px;font-size:15px;line-height:17.6px;letter-spacing:0.4px;">2016年第一季度按照美元计价的黄金价</div>
<div class="ln" style="left:516px;top:157.9px;font-size:15px;line-height:17.6px;letter-spacing:0.4px;">格上涨了约17%，回报率远高于同期其它</div>
<div class="ln" style="left:516px;top:175.5px;font-size:15px;line-height:17.6px;letter-spacing:0.4px;">资产。如果按照牛市20%的涨幅来衡量，</div>
<div class="ln" style="left:516px;top:193.1px;font-size:15px;line-height:17.6px;letter-spacing:0.4px;">黄金价格已经逼近阶段性牛市的起点。</div>
<div class="ln" style="left:516px;top:210.7px;font-size:15px;line-height:17.6px;letter-spacing:0.4px;">因为美联储推迟加息、金融市场尤其是</div>
<div class="ln" style="left:516px;top:228.3px;font-size:15px;line-height:17.6px;letter-spacing:0.4px;">股市不确定性增加、以及除美联储以外</div>
<div class="ln" style="left:516px;top:245.9px;font-size:15px;line-height:17.6px;letter-spacing:0.4px;">的多数央行采取扩张性货币政策，黄金</div>
<div class="ln" style="left:516px;top:263.5px;font-size:15px;line-height:17.6px;letter-spacing:0.4px;">投资一季度受到绝大数投资者的追捧。</div>
<div class="ln" style="left:516px;top:298.7px;font-size:15px;line-height:17.6px;letter-spacing:0.4px;">统计显示，一季度多头占比高达62.5%，</div>
<div class="ln" style="left:516px;top:316.3px;font-size:15px;line-height:17.6px;letter-spacing:0.4px;">为2012年市场下行后多头占比最多的一</div>
<div class="ln" style="left:516px;top:333.9px;font-size:15px;line-height:17.6px;letter-spacing:0.4px;">个季度，空头占比一季度下降至37.5%。</div>
<div class="a" style="left:0;top:454px;width:222px;height:33px;background:#6192c0;"></div>
<div class="a" style="left:11px;top:454px;font-size:15px;line-height:33px;color:#fff;letter-spacing:0.5px;">一季度黄金走势图和多空分布</div>
<div class="ln j" style="left:19px;top:710.30px;width:761px;font-size:15.2px;line-height:17px;">黄金价格一季度突破1200美元附近的关键阻力线，之后多头一直持稳在1220-1260美元区间。由于后期美联储加息</div>
<div class="ln j" style="left:19px;top:727.80px;width:761px;font-size:15.2px;line-height:17px;">时间存有不确定性，市场并没有形成一致的预期，所以黄金价格3月份一直区间盘整，等待消息面的指引。从交易</div>
<div class="ln j" style="left:19px;top:745.30px;width:753px;font-size:15.2px;line-height:17px;">量参考上来看，黄金价格反弹突破1200美元以后，市场交易一直较为活跃，短线不存在投资者高位离场的迹象，</div>
<div class="ln j" style="left:19px;top:762.80px;width:754px;font-size:15.2px;line-height:17px;">这意味着未来除非美联储远超市场预期进行提早加息或者大幅提高加息幅度之外，黄金价格再次形成单边空头的</div>
<div class="ln j" style="left:19px;top:780.30px;width:761px;font-size:15.2px;line-height:17px;">概率已经变得非常低。从振幅趋势上看，多头反弹时，幅度超过10美元的行情占比较多，2月份之前市场上升趋势</div>
<div class="ln j" style="left:19px;top:797.80px;width:754px;font-size:15.2px;line-height:17px;">较为连贯，3月份因为盘整趋势，所以下行回调的幅度有所扩大。总体上，黄金价格一季度单日反弹幅度均值在9</div>
<div class="ln" style="left:19px;top:815.30px;font-size:15.2px;line-height:17px;">美元左右，回调幅度均值在7美元左右。</div>
<div class="a" style="left:0;top:844px;width:222px;height:33px;background:#6192c0;"></div>
<div class="a" style="left:11.5px;top:844px;font-size:15px;line-height:33px;color:#fff;letter-spacing:0.3px;">黄金市场历史牛市和熊市解析</div>
<div class="a sr" style="left:96px;top:888px;font-size:10.4px;line-height:14px;color:#222;">全球黄金ETF(及类似)流入流出趋势</div>
<div class="a" style="left:19.5px;top:894px;font-size:10px;line-height:14px;color:#222;">公吨</div>
<div class="a sr" style="left:19px;top:1105px;font-size:8.4px;line-height:12px;color:#222;letter-spacing:0.45px;">*包括75支全球黄金ETF和世界黄金协会定期监控的类似产品</div>
<div class="a sr" style="left:488px;top:888px;font-size:10.4px;line-height:14px;color:#222;">1970年以来黄金市场牛市和熊市统计</div>
<div class="a sr" style="left:364px;top:1104.5px;font-size:8.4px;line-height:10.5px;color:#222;letter-spacing:0.7px;">*世界黄金协会将牛市定义为“以美元计价的黄金价格至少连续两年上涨的时期，熊市则为牛市前后价格持续下跌<br>的时期。</div>
<div class="ln j" style="left:19px;top:1133.80px;width:746px;font-size:15.2px;line-height:17px;">根据世界黄金协会的统计数据，各类黄金ETF于一季度实现了自2008年金融危机以来的最强增持，累计净流入约</div>
<div class="ln j" style="left:19px;top:1151.40px;width:760px;font-size:15.2px;line-height:17px;">400公吨。黄金ETF的大量增持，扭转了2013年-2015年期间持续净流出的状态，显示了避险资金对黄金的青睐。另</div>
<div class="ln j" style="left:19px;top:1169.00px;width:760px;font-size:15.2px;line-height:17px;">外，实物黄金方面，美国一季度金币销售同比增长了约51%；期货市场，全球最大的黄金期货交易所纽约商品交易</div>
<div class="ln" style="left:19px;top:1186.60px;font-size:15.2px;line-height:17px;">所(COMEX)的净多头头寸实现了2010年以来的最大季度增幅。</div>
<div class="ln j" style="left:19px;top:1222.60px;width:753px;font-size:15.2px;line-height:17px;">按照世界黄金协会对黄金市场牛市的定义，从1970年以来，黄金牛市持续时期平均时长约63个月，远高于熊市47</div>
<div class="ln j" style="left:19px;top:1240.20px;width:753px;font-size:15.2px;line-height:17px;">个月的平均持续时长。另外，牛市累计回报率均值约385%，远高于熊市期间累计回报率-44%的绝对值。因此从长</div>
<div class="ln j" style="left:19px;top:1257.80px;width:753px;font-size:15.2px;line-height:17px;">期来看，黄金价格对于对冲风险，抵御通胀有极佳的投资价值。不过投资者需要注意的是，如果将黄金牛市定义</div>
<div class="ln j" style="left:19px;top:1275.40px;width:753px;font-size:15.2px;line-height:17px;">为“以美元计价的黄金价格至少连续三年上涨的时期”后，黄金牛市持续时期的平均时长会有所下降。因此投资</div>
<div class="ln" style="left:19px;top:1293.00px;font-size:15.2px;line-height:17px;">者不应将世界黄金协会对牛市和熊市的统计数据来作为未来多空时长的判断依据。</div>
<div class="a" style="left:29px;top:1318.5px;font-size:13.7px;line-height:18px;color:#c6bb3c;">www.igoldhk.com</div>
<div class="a" style="left:139px;top:1319px;font-size:12.4px;line-height:16px;color:#c6bb3c;">数据来源：领峰贵金属、洲际交易所基准管理机构、世界黄金协会、Bloomberg</div>
<div class="a" style="left:610px;top:1311px;width:190px;height:26px;background:#84c78c;"></div>
<div class="a" style="left:610px;top:1337px;width:190px;height:3px;background:#5e9a64;"></div>
<div class="a" style="left:624px;top:1315px;font-size:14.5px;line-height:18px;color:#fff;letter-spacing:-0.65px;">Designed By Michael Wang</div>
</body></html>
